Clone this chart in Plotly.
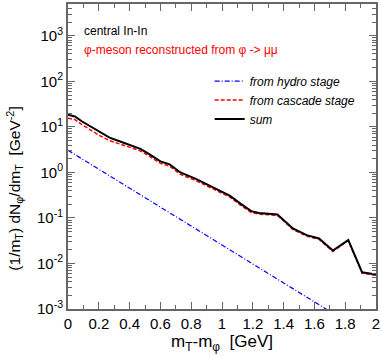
import plotly.graph_objects as go

# values
x_sum = [0.0, 0.045, 0.089, 0.14, 0.2, 0.27, 0.33, 0.40, 0.47, 0.53, 0.60, 0.66, 0.73,
         0.83, 0.92, 0.98, 1.05, 1.12, 1.19, 1.24, 1.31, 1.36, 1.46, 1.55, 1.63, 1.72,
         1.82, 1.91, 2.0]
y_sum = [18.6, 17.0, 13.3, 10.4, 7.8, 5.8, 4.9, 4.1, 3.3, 2.5, 1.75, 1.5, 1.0,
         0.72, 0.51, 0.41, 0.31, 0.206, 0.141, 0.129, 0.125, 0.119, 0.059, 0.042, 0.0355, 0.0192,
         0.0327, 0.0064, 0.0057]
y_cascade = [15.5, 14.5, 11.3, 8.8, 6.6, 5.0, 4.27, 3.65, 2.98, 2.26, 1.58, 1.37, 0.91,
             0.66, 0.47, 0.38, 0.29, 0.192, 0.131, 0.121, 0.119, 0.114, 0.056, 0.040, 0.034, 0.0183,
             0.0322, 0.0061, 0.0055]
x_hydro = [0.0, 0.1, 0.2, 0.3, 0.4, 0.5, 0.6, 0.7, 0.8, 0.9, 1.0, 1.1, 1.2, 1.3, 1.4,
           1.5, 1.6, 1.7, 1.8]
y_hydro = [3.07, 1.90, 1.18, 0.73, 0.45, 0.28, 0.173, 0.107, 0.066, 0.041, 0.0254, 0.0157,
           0.0097, 0.0060, 0.0037, 0.0023, 0.0014, 0.00088, 0.00055]

y_tickvals = [1e-3, 1e-2, 1e-1, 1, 10, 100, 1000]
y_ticktext = ["10<sup>-3</sup>", "10<sup>-2</sup>", "10<sup>-1</sup>", "10<sup>0</sup>",
              "10<sup>1</sup>", "10<sup>2</sup>", "10<sup>3</sup>"]
x_tickvals = [0, 0.2, 0.4, 0.6, 0.8, 1.0, 1.2, 1.4, 1.6, 1.8, 2.0]
x_ticktext = ["0", "0.2", "0.4", "0.6", "0.8", "1", "1.2", "1.4", "1.6", "1.8", "2"]

font_family = "Liberation Sans, Arial, sans-serif"

fig = go.Figure()
fig.add_trace(go.Scatter(x=x_hydro, y=y_hydro, mode="lines",
                         name="<i>from hydro stage</i>",
                         line=dict(color="blue", width=1.2, dash="5px,2px,1px,2px")))
fig.add_trace(go.Scatter(x=x_sum, y=y_cascade, mode="lines",
                         name="<i>from cascade stage</i>",
                         line=dict(color="red", width=1.5, dash="4px,2px")))
fig.add_trace(go.Scatter(x=x_sum, y=y_sum, mode="lines",
                         name="<i>sum</i>",
                         line=dict(color="black", width=2)))

fig.add_annotation(text="central In-In", x=0.045, y=0.91, xref="paper", yref="paper",
                   xanchor="left", yanchor="middle", showarrow=False,
                   font=dict(size=12, color="black"))
fig.add_annotation(text="φ-meson reconstructed from φ -> μμ", x=0.045, y=0.85,
                   xref="paper", yref="paper", xanchor="left", yanchor="middle",
                   showarrow=False, font=dict(size=12, color="red"))
# y-axis title placed by hand (the reference does not center it on the axis)
fig.add_annotation(text="(1/m<sub>T</sub>) dN<sub>φ</sub>/dm<sub>T</sub>  [GeV<sup>-2</sup>]",
                   x=-0.175, y=0.395, xref="paper", yref="paper", textangle=-90,
                   xanchor="center", yanchor="middle", showarrow=False,
                   font=dict(size=15.5, color="black"))

axis_common = dict(showline=True, linecolor="#666", linewidth=2, mirror="allticks",
                   ticks="inside", tickcolor="#666", showgrid=False, zeroline=False,
                   tickfont=dict(size=15, color="black"))

fig.update_layout(
    width=382, height=356,
    margin=dict(l=68, r=5, t=2, b=47),
    paper_bgcolor="white", plot_bgcolor="white",
    font=dict(family=font_family, color="black"),
    showlegend=True,
    legend=dict(x=0.46, y=0.795, xanchor="left", yanchor="top",
                bgcolor="rgba(0,0,0,0)", font=dict(size=12),
                tracegroupgap=0, itemwidth=30),
    xaxis=dict(range=[0, 2], tickvals=x_tickvals, ticktext=x_ticktext, ticklen=7,
               minor=dict(dtick=0.1, ticks="inside", ticklen=4, tickcolor="#666"),
               title=dict(text="m<sub>T</sub>-m<sub>φ</sub>  [GeV]", font=dict(size=17),
                          standoff=4),
               **axis_common),
    yaxis=dict(type="log", range=[-3, 3.7], tickvals=y_tickvals, ticktext=y_ticktext,
               ticklen=7,
               minor=dict(dtick="D1", ticks="inside", ticklen=4, tickcolor="#666"),
               **axis_common),
)

fig.write_html("out.html", config={"displayModeBar": False},
               post_script="document.body.style.margin='0';")
